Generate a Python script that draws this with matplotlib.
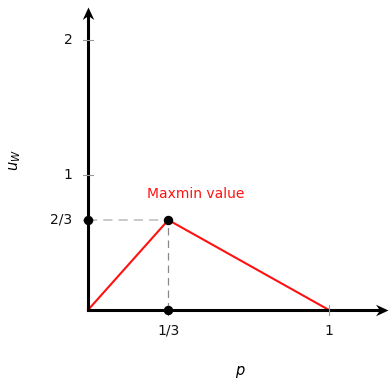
import matplotlib
matplotlib.use("Agg")
import matplotlib.pyplot as plt
import numpy as np
from matplotlib.path import Path

# Welfare curve u_W(p) and its maxmin point
p_vals = [0.0, 1/3, 1.0]
u_vals = [0.0, 2/3, 0.0]
peak_p = 1/3
peak_u = 2/3
xtick_vals = [1/3, 1.0]
xtick_labels = ["1/3", "1"]
ytick_vals = [2/3, 1.0, 2.0]
ytick_labels = ["2/3", "1", "2"]

W, H = 391, 380
fig = plt.figure(figsize=(W / 100, H / 100), dpi=100)
left, bottom, right, top = 88, 310, 388, 7
ax = fig.add_axes([left / W, (H - bottom) / H, (right - left) / W, (bottom - top) / H])
xmax, ymax = 1.245, 2.244
ax.set_xlim(0, xmax)
ax.set_ylim(0, ymax)
for s in ax.spines.values():
    s.set_visible(False)
ax.set_xticks([])
ax.set_yticks([])
ax.patch.set_alpha(0)

font = "DejaVu Sans"
fs = 10

# guide lines to the maxmin point
ax.plot([0, peak_p], [peak_u, peak_u], color="#bbbbbb", lw=1.1, dashes=(6, 4), zorder=2)
ax.plot([peak_p, peak_p], [0, peak_u], color="#888888", lw=0.9, dashes=(6, 4), zorder=2)

# the curve
ax.plot(p_vals, u_vals, color="#ff1111", lw=1.5, zorder=3, clip_on=False)

# axis lines
ax.plot([0, xmax * 0.985], [0, 0], color="black", lw=2.2, zorder=4, clip_on=False,
        solid_capstyle="projecting")
ax.plot([0, 0], [0, ymax * 0.985], color="black", lw=2.2, zorder=4, clip_on=False,
        solid_capstyle="projecting")

# stealth-style arrow heads, tip at the marker origin
def head(angle):
    pts = np.array([[0, 0], [-1, 0.46], [-0.68, 0], [-1, -0.46], [0, 0]])
    a = np.deg2rad(angle)
    rot = np.array([[np.cos(a), -np.sin(a)], [np.sin(a), np.cos(a)]])
    pts = pts @ rot.T
    codes = [Path.MOVETO, Path.LINETO, Path.LINETO, Path.LINETO, Path.CLOSEPOLY]
    return Path(pts, codes)

ax.plot([xmax], [0], marker=head(0), ms=18, color="black", mew=0, zorder=4, clip_on=False)
ax.plot([0], [ymax], marker=head(90), ms=18, color="black", mew=0, zorder=4, clip_on=False)

# markers
ax.plot([0, peak_p, peak_p], [peak_u, peak_u, 0], "o", color="black", ms=6.8, mew=0,
        zorder=6, clip_on=False)

# tick marks and labels
tlx, tly = 0.02, 0.02 * ymax / xmax * 300 / 303
for v, lab in zip(xtick_vals, xtick_labels):
    ax.plot([v, v], [-tly, tly], color="#999999", lw=0.8, zorder=5, clip_on=False)
    ax.text(v, -0.1, lab, ha="center", va="top", fontsize=fs, family=font, color="#111111")
for v, lab in zip(ytick_vals, ytick_labels):
    ax.plot([-tlx, tlx], [v, v], color="#999999", lw=0.8, zorder=5, clip_on=False)
    ax.text(-0.065, v, lab, ha="right", va="center", fontsize=fs, family=font, color="#111111")

ax.text(0.448, 0.86, "Maxmin value", ha="center", va="center", fontsize=fs,
        family=font, color="#ff1111")

fig.text(240 / W, 1 - 372 / H, "$p$", ha="center", va="center", fontsize=fs + 0.5)
fig.text(15 / W, 1 - 160 / H, "$u_W$", ha="center", va="center", fontsize=fs + 0.5,
         rotation=90)

fig.savefig("out.png", dpi=100)
